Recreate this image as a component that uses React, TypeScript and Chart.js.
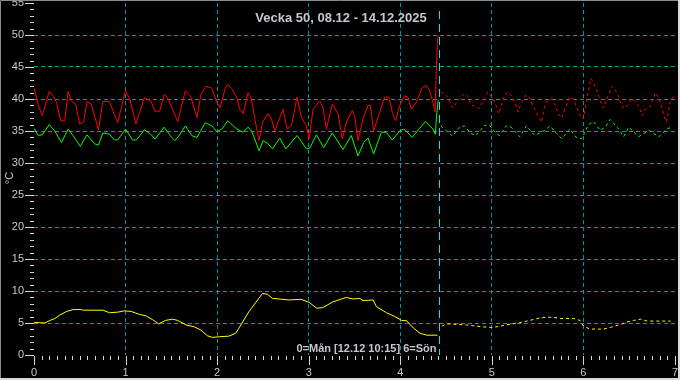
import React, { useEffect, useRef } from "react";
import { Chart, registerables } from "chart.js";

Chart.register(...registerables);

const TITLE = "Vecka 50, 08.12 - 14.12.2025";
const NOW_LABEL = "0=Mån [12.12 10:15] 6=Sön";
const Y_TITLE = "°C";
const NOW_X = 4.427;
const X_MIN = 0;
const X_MAX = 7;
const Y_MIN = 0;
const Y_MAX = 55;

// measured (solid)
const redX = [0, 0.047, 0.09, 0.166, 0.209, 0.245, 0.292, 0.336, 0.372, 0.408, 0.455, 0.498, 0.542, 0.578, 0.625, 0.704, 0.751, 0.823, 0.913, 1.0, 1.047, 1.112, 1.206, 1.274, 1.321, 1.372, 1.422, 1.455, 1.57, 1.653, 1.708, 1.78, 1.823, 1.877, 1.942, 1.996, 2.032, 2.087, 2.116, 2.159, 2.213, 2.247, 2.284, 2.338, 2.375, 2.411, 2.458, 2.495, 2.556, 2.593, 2.629, 2.684, 2.72, 2.764, 2.811, 2.873, 2.92, 2.975, 3.004, 3.047, 3.12, 3.156, 3.193, 3.258, 3.32, 3.367, 3.411, 3.476, 3.502, 3.538, 3.593, 3.647, 3.673, 3.709, 3.756, 3.829, 3.876, 3.913, 3.949, 3.993, 4.047, 4.084, 4.12, 4.175, 4.24, 4.284, 4.32, 4.356, 4.38, 4.393, 4.405, 4.414];
const redY = [41.8, 39.0, 37.4, 41.2, 40.5, 39.5, 36.6, 36.6, 41.2, 39.7, 39.2, 36.1, 36.4, 39.6, 39.2, 35.2, 39.6, 39.6, 36.3, 41.3, 40.0, 36.1, 40.2, 39.7, 38.1, 38.1, 40.7, 40.3, 36.5, 41.3, 40.5, 37.1, 40.7, 42.0, 41.7, 39.5, 38.6, 41.6, 42.3, 41.6, 40.3, 38.4, 37.7, 41.0, 40.0, 36.9, 33.5, 36.4, 37.7, 36.9, 35.0, 37.1, 38.4, 35.3, 35.8, 40.3, 37.1, 35.8, 33.75, 38.4, 39.7, 38.7, 35.3, 39.2, 37.7, 33.75, 36.4, 38.2, 37.4, 33.5, 36.9, 39.0, 39.0, 35.0, 37.1, 40.3, 40.3, 37.9, 36.6, 39.0, 40.5, 40.3, 38.4, 39.5, 41.8, 42.1, 41.3, 39.5, 38.0, 44.3, 48.5, 50.0];

const greenX = [0, 0.047, 0.09, 0.166, 0.227, 0.3, 0.372, 0.426, 0.505, 0.578, 0.661, 0.704, 0.751, 0.823, 0.877, 0.913, 1.0, 1.076, 1.119, 1.206, 1.274, 1.321, 1.422, 1.491, 1.538, 1.581, 1.653, 1.726, 1.78, 1.87, 1.942, 1.996, 2.051, 2.116, 2.177, 2.215, 2.284, 2.338, 2.375, 2.411, 2.458, 2.502, 2.556, 2.604, 2.684, 2.749, 2.873, 2.975, 3.011, 3.084, 3.164, 3.258, 3.375, 3.465, 3.538, 3.6, 3.647, 3.709, 3.793, 3.847, 3.913, 3.993, 4.036, 4.065, 4.127, 4.211, 4.276, 4.338, 4.36, 4.383, 4.395, 4.414];
const greenY = [35.4, 34.3, 34.4, 36.0, 35.0, 33.2, 35.3, 34.3, 32.6, 34.4, 33.0, 32.8, 34.7, 34.5, 33.6, 33.6, 35.3, 33.6, 33.6, 35.2, 34.5, 33.75, 35.6, 34.2, 33.5, 34.2, 35.8, 34.25, 34.0, 36.3, 35.8, 34.9, 35.3, 36.6, 35.8, 35.3, 34.8, 35.6, 35.0, 33.75, 31.9, 33.5, 33.0, 32.2, 33.9, 32.2, 34.3, 32.2, 32.3, 34.4, 32.4, 34.7, 32.1, 34.3, 31.1, 33.2, 33.9, 31.4, 34.8, 34.8, 33.6, 35.0, 35.3, 35.0, 34.0, 35.4, 36.5, 35.6, 35.2, 34.5, 37.2, 39.8];

const yellowX = [0, 0.12, 0.174, 0.228, 0.283, 0.355, 0.428, 0.518, 0.536, 0.754, 0.826, 0.917, 0.989, 1.062, 1.152, 1.225, 1.297, 1.362, 1.435, 1.514, 1.569, 1.659, 1.75, 1.822, 1.895, 1.949, 2.022, 2.13, 2.203, 2.238, 2.348, 2.495, 2.549, 2.604, 2.788, 2.916, 3.007, 3.088, 3.154, 3.264, 3.41, 3.484, 3.557, 3.593, 3.703, 3.74, 3.85, 3.941, 4.015, 4.07, 4.143, 4.216, 4.289, 4.407];
const yellowY = [5.1, 5.0, 5.4, 5.7, 6.25, 6.8, 7.1, 7.1, 7.0, 7.0, 6.6, 6.7, 6.9, 6.8, 6.35, 6.1, 5.5, 4.85, 5.4, 5.6, 5.4, 4.7, 4.4, 3.9, 3.0, 2.75, 2.85, 2.95, 3.4, 4.2, 6.8, 9.6, 9.5, 8.85, 8.6, 8.7, 8.2, 7.3, 7.4, 8.3, 9.0, 8.75, 8.85, 8.5, 8.6, 7.55, 6.6, 6.0, 5.4, 5.35, 4.2, 3.4, 3.1, 3.1];

// forecast (dotted)
const redFcX = [4.443, 4.516, 4.571, 4.608, 4.645, 4.7, 4.736, 4.773, 4.81, 4.864, 4.901, 4.956, 5.011, 5.048, 5.077, 5.139, 5.176, 5.212, 5.267, 5.286, 5.322, 5.37, 5.407, 5.451, 5.505, 5.542, 5.579, 5.615, 5.652, 5.689, 5.725, 5.762, 5.799, 5.846, 5.89, 5.927, 5.963, 6.0, 6.037, 6.081, 6.11, 6.147, 6.183, 6.22, 6.256, 6.311, 6.366, 6.403, 6.44, 6.476, 6.531, 6.604, 6.641, 6.678, 6.733, 6.788, 6.842, 6.879, 6.908, 6.945, 6.989];
const redFcY = [41.1, 40.4, 38.6, 39.3, 40.0, 40.9, 40.4, 39.1, 38.9, 38.5, 39.6, 41.1, 40.1, 38.9, 37.7, 40.6, 41.1, 40.5, 38.9, 38.0, 39.5, 40.6, 40.3, 38.9, 37.3, 36.4, 39.1, 39.9, 40.0, 39.1, 37.7, 37.0, 38.5, 40.3, 40.0, 38.7, 37.4, 36.9, 40.0, 43.2, 42.6, 41.3, 39.7, 38.6, 40.0, 42.0, 41.0, 39.5, 38.5, 38.9, 40.1, 38.9, 37.4, 38.4, 38.9, 41.0, 39.5, 37.3, 36.4, 39.5, 40.5];

const greenFcX = [4.443, 4.516, 4.571, 4.645, 4.7, 4.773, 4.828, 4.919, 4.974, 5.048, 5.084, 5.158, 5.212, 5.267, 5.304, 5.377, 5.469, 5.579, 5.634, 5.707, 5.762, 5.853, 5.927, 5.982, 6.055, 6.11, 6.183, 6.238, 6.293, 6.385, 6.44, 6.495, 6.604, 6.714, 6.824, 6.916, 6.952];
const greenFcY = [35.8, 34.9, 34.2, 35.6, 35.8, 34.6, 34.3, 35.9, 35.9, 34.6, 34.3, 35.8, 35.6, 34.7, 34.1, 35.8, 34.3, 35.1, 35.8, 34.6, 33.8, 35.3, 33.9, 33.8, 36.0, 36.5, 35.1, 35.6, 36.8, 35.3, 34.1, 35.6, 34.1, 35.1, 34.1, 35.4, 35.5];

const yellowFcX = [4.454, 4.509, 4.535, 4.718, 4.901, 5.011, 5.121, 5.304, 5.414, 5.524, 5.597, 5.67, 5.744, 5.89, 5.963, 6.0, 6.073, 6.22, 6.293, 6.421, 6.476, 6.549, 6.623, 6.696, 6.952];
const yellowFcY = [4.5, 4.85, 4.85, 4.7, 4.4, 4.3, 4.6, 5.05, 5.4, 5.8, 5.9, 5.9, 5.7, 5.7, 5.4, 4.5, 4.05, 4.05, 4.3, 4.85, 5.15, 5.4, 5.6, 5.3, 5.3];

const RED = "#ff0000";
const GREEN = "#00ff00";
const YELLOW = "#ffff00";
const GRID = "#009999";
const NOW_COLOR = "#00e8ff";
const TEXT = "#c4c8cc";
const TICK = "#d8d8d8";

const pts = (xs: number[], ys: number[]) => xs.map((x, i) => ({ x, y: ys[i] }));

const noPad = (s: any) => {
  s.paddingTop = 0;
  s.paddingBottom = 0;
  s.paddingLeft = 0;
  s.paddingRight = 0;
};

const decorPlugin = {
  id: "decor",
  beforeDraw(chart: any) {
    const { ctx, width, height } = chart;
    ctx.save();
    ctx.fillStyle = "#000";
    ctx.fillRect(0, 0, width, height);
    ctx.restore();
  },
  afterDraw(chart: any) {
    const { ctx, width, height, chartArea } = chart;
    const xs = chart.scales.x;
    const ys = chart.scales.y;
    ctx.save();
    // tick marks
    ctx.strokeStyle = TICK;
    ctx.lineWidth = 1;
    ctx.beginPath();
    for (let v = Y_MIN; v <= Y_MAX; v++) {
      const py = Math.round(ys.getPixelForValue(v)) + 0.5;
      const len = v % 5 === 0 ? 9 : 4;
      ctx.moveTo(chartArea.left, py);
      ctx.lineTo(chartArea.left - len, py);
    }
    for (let i = 0; i <= X_MAX * 12; i++) {
      const px = Math.round(xs.getPixelForValue(i / 12)) + 0.5;
      const len = i % 12 === 0 ? 9 : 4;
      ctx.moveTo(px, chartArea.bottom + 1);
      ctx.lineTo(px, chartArea.bottom + 1 + len);
    }
    ctx.stroke();

    // now line
    const nx = Math.round(xs.getPixelForValue(NOW_X)) + 0.5;
    ctx.strokeStyle = NOW_COLOR;
    ctx.setLineDash([8, 5]);
    ctx.beginPath();
    ctx.moveTo(nx, chartArea.top + 8);
    ctx.lineTo(nx, chartArea.bottom);
    ctx.stroke();
    ctx.setLineDash([]);

    // title
    ctx.fillStyle = TEXT;
    ctx.font = "bold 13px 'Liberation Sans', Arial, sans-serif";
    ctx.textAlign = "center";
    ctx.textBaseline = "middle";
    ctx.fillText(TITLE, 341, 18);

    // now label
    ctx.font = "bold 11px 'Liberation Sans', Arial, sans-serif";
    ctx.textAlign = "right";
    ctx.fillText(NOW_LABEL, nx - 3, 349);

    // y title
    ctx.save();
    ctx.translate(10, 178);
    ctx.rotate(-Math.PI / 2);
    ctx.textAlign = "center";
    ctx.font = "11px 'Liberation Sans', Arial, sans-serif";
    ctx.fillText(Y_TITLE, 0, 0);
    ctx.restore();

    // frame
    ctx.strokeStyle = "#8a8a8a";
    ctx.beginPath();
    ctx.moveTo(0.5, height);
    ctx.lineTo(0.5, 0.5);
    ctx.lineTo(width, 0.5);
    ctx.stroke();
    ctx.strokeStyle = "#d8d8d8";
    ctx.lineWidth = 2;
    ctx.beginPath();
    ctx.moveTo(0, height - 1);
    ctx.lineTo(width - 1, height - 1);
    ctx.lineTo(width - 1, 0);
    ctx.stroke();
    ctx.restore();
  },
};

export default function App() {
  const ref = useRef<HTMLCanvasElement | null>(null);
  useEffect(() => {
    document.body.style.margin = "0";
    const canvas = ref.current!;
    const line = (data: any[], color: string, dash: number[] = []) => ({
      data,
      borderColor: color,
      borderWidth: 1,
      borderDash: dash,
      pointRadius: 0,
      tension: 0,
      fill: false,
    });
    const chart = new Chart(canvas, {
      type: "line",
      data: {
        datasets: [
          line(pts(redX, redY), RED),
          line(pts(greenX, greenY), GREEN),
          line(pts(yellowX, yellowY), YELLOW),
          line(pts(redFcX, redFcY), RED, [3, 3]),
          line(pts(greenFcX, greenFcY), GREEN, [3, 3]),
          line(pts(yellowFcX, yellowFcY), YELLOW, [3, 3]),
        ],
      },
      options: {
        animation: false,
        responsive: false,
        devicePixelRatio: 1,
        parsing: false as any,
        layout: { padding: { top: 3, right: 5, left: 0, bottom: 0 } },
        plugins: { legend: { display: false }, tooltip: { enabled: false } },
        scales: {
          x: {
            type: "linear",
            min: X_MIN,
            max: X_MAX,
            afterFit: (s: any) => { s.height = 25; noPad(s); },
            ticks: {
              stepSize: 1,
              color: TEXT,
              padding: 11,
              font: { size: 11, family: "'Liberation Sans', Arial, sans-serif" },
              maxRotation: 0,
            },
            grid: {
              drawTicks: false,
              lineWidth: 1,
              color: (c: any) => (c.tick && (c.tick.value === X_MIN || c.tick.value === X_MAX) ? "rgba(0,0,0,0)" : GRID),
            },
            border: { display: false, dash: [4, 3] },
          },
          y: {
            type: "linear",
            min: Y_MIN,
            max: Y_MAX,
            afterFit: (s: any) => { s.width = 34; noPad(s); },
            ticks: {
              stepSize: 5,
              color: TEXT,
              padding: 10,
              font: { size: 11, family: "'Liberation Sans', Arial, sans-serif" },
            },
            grid: {
              drawTicks: false,
              lineWidth: 1,
              color: (c: any) => (c.tick && (c.tick.value === Y_MIN || c.tick.value === Y_MAX) ? "rgba(0,0,0,0)" : GRID),
            },
            border: { display: false, dash: [4, 3] },
          },
        },
      },
      plugins: [decorPlugin],
    });
    return () => chart.destroy();
  }, []);
  return (
    <div style={{ width: 680, height: 380 }}>
      <canvas ref={ref} width={680} height={380} style={{ display: "block" }} />
    </div>
  );
}
